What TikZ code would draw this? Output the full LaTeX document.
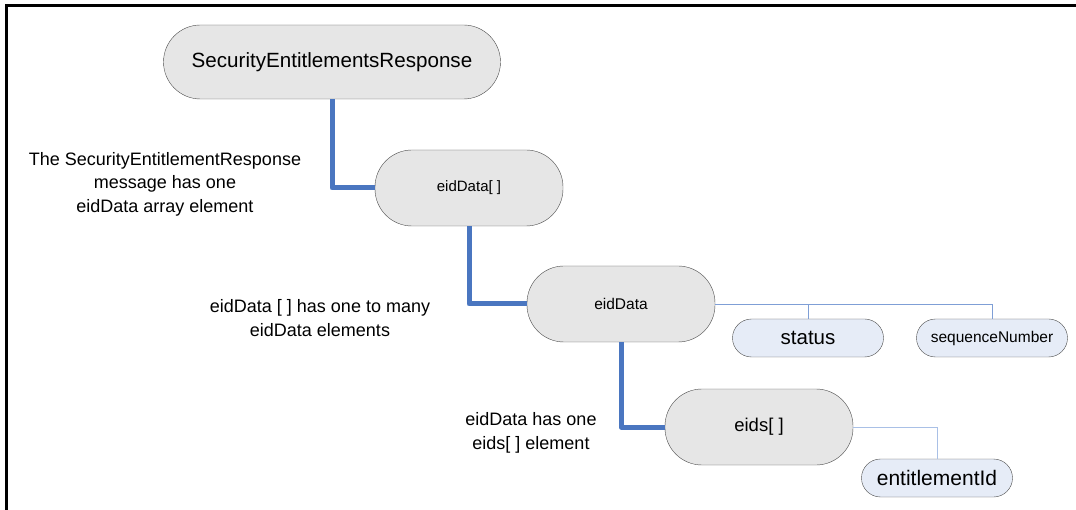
\documentclass[tikz,border=0pt]{standalone}
\usepackage{fontspec}
\setmainfont{Liberation Sans}
\definecolor{pillgray}{HTML}{E6E6E6}
\definecolor{pillblue}{HTML}{E6ECF7}
\definecolor{busblue}{HTML}{4A76C0}
\definecolor{linkblue}{HTML}{7F9FD6}
\definecolor{linkpale}{HTML}{A9C0E6}
\tikzset{
    element/.style={draw=black!70, fill=pillgray, rounded corners=37pt, minimum width=188pt, minimum height=76pt, inner sep=0pt},
    field/.style={draw=black!70, fill=pillblue, rounded corners=19pt, minimum width=151pt, minimum height=38pt, inner sep=0pt},
    note/.style={align=center, font=\fontsize{18}{23.5}\selectfont},
    bus/.style={busblue, line width=5pt, line join=round},
    link/.style={linkblue, line width=0.9pt}
}
\begin{document}
\begin{tikzpicture}[x=1pt, y=-1pt]
    \useasboundingbox (0,0) rectangle (1076,510);

    % Outer frame (only top and left edges are visible)
    \draw[line width=2.6pt] (6.5,511) -- (6.5,5.5) -- (1077,5.5);

    % Root message
    \node[element, minimum width=337pt, minimum height=74pt, font=\fontsize{20.6}{24}\selectfont] (ser) at (332,62) {SecurityEntitlementsResponse};

    % Array and its elements
    \node[element, font=\fontsize{15}{18}\selectfont] (arr) at (469,188) {eidData[ ]};
    \node[element, font=\fontsize{15.5}{18}\selectfont] (data) at (621,304) {eidData};
    \node[element, font=\fontsize{18.5}{22}\selectfont] (eids) at (759,427) {eids[ ]};

    % Fields
    \node[field, font=\fontsize{20.5}{24}\selectfont] (status) at (808,338) {status};
    \node[field, font=\fontsize{15.5}{18}\selectfont] (seq) at (992,338) {sequenceNumber};
    \node[field, font=\fontsize{21}{24}\selectfont] (entid) at (937,478) {entitlementId};

    % Notes
    \node[note] (n1) at (165,184) {The SecurityEntitlementResponse\\message has one\\eidData array element};
    \node[note] (n2) at (320,318) {eidData [ ] has one to many\\eidData elements};
    \node[note] (n3) at (531,433) {eidData has one\\eids[ ] element};

    % Connectors
    \draw[bus] (ser.south) |- (arr.west);
    \draw[bus] (arr.south) |- (data.west);
    \draw[bus] (data.south) |- (eids.west);
    \draw[link] (data.east) -| (status.north);
    \draw[link] (data.east) -| (seq.north);
    \draw[link, linkpale] (eids.east) -| (entid.north);

\end{tikzpicture}
\end{document}
